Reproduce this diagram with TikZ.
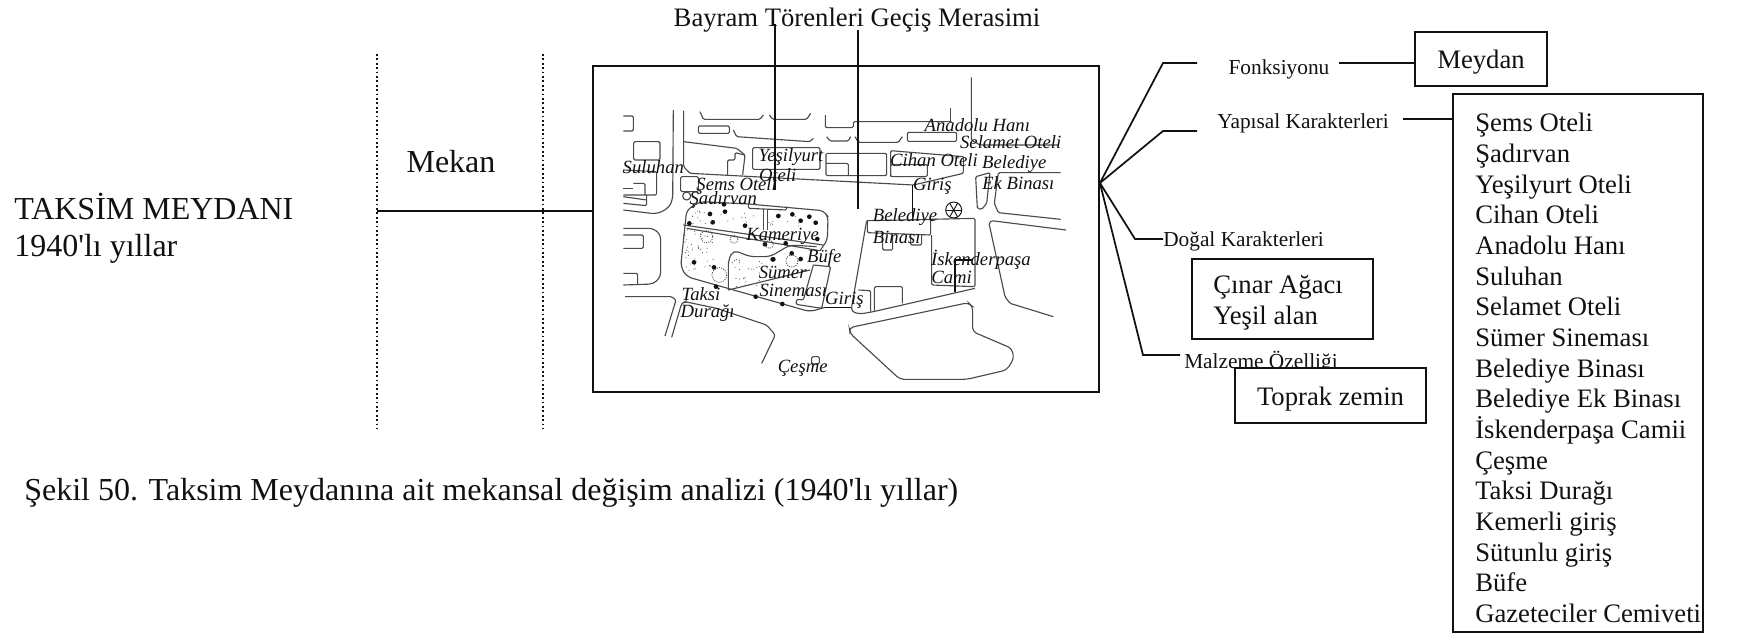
\documentclass[tikz,border=0pt]{standalone}
\usepackage{fontspec}
\setmainfont{Liberation Serif}
\newfontfamily\straightfont{Liberation Serif}
\usetikzlibrary{calc}
\definecolor{msInk}{HTML}{111111}
\definecolor{msRoad}{HTML}{4A4A4A}
\newcommand{\apos}{{\straightfont'}}
\newcommand{\listText}{Şems Oteli\\Şadırvan\\Yeşilyurt Oteli\\Cihan Oteli\\Anadolu Hanı\\Suluhan\\Selamet Oteli\\Sümer Sineması\\Belediye Binası\\Belediye Ek Binası\\İskenderpaşa Camii\\Çeşme\\Taksi Durağı\\Kemerli giriş\\Sütunlu giriş\\Büfe\\Gazeteciler Cemiveti}

\begin{document}
\begin{tikzpicture}[
  x=0.75pt, y=-0.75pt,
  plain/.style={inner sep=0pt, text=msInk, font=\fontsize{20}{23}\selectfont},
  small/.style={inner sep=0pt, text=msInk, font=\fontsize{16}{18}\selectfont},
  big/.style={inner sep=0pt, text=msInk, align=left, font=\fontsize{24}{27.8}\selectfont},
  box/.style={draw=msInk, line width=1.4pt, fill=white, inner sep=0pt},
  conn/.style={draw=msInk, line width=1.3pt},
  sep/.style={draw=msInk, line width=1.3pt, dotted},
  road/.style={draw=msRoad, line width=0.85pt, rounded corners=1pt},
  maplbl/.style={inner sep=0pt, text=msInk, yshift=-1.5pt, font=\itshape\fontsize{14}{16}\selectfont},
  tree/.style={fill=msInk, draw=none},
  crown/.style={draw=msRoad, line width=0.7pt, densely dotted}
]
\useasboundingbox (0,0) rectangle (1742,637);

% ---- left titles ----------------------------------------------------------
\node[big, anchor=west] (baslik) at (14,228) {TAKSİM MEYDANI\\1940\apos lı yıllar};
\node[big, anchor=center] (mekan) at (451,162) {Mekan};
\node[big, anchor=west] (sekil) at (24,493) {Şekil 50. Taksim Meydanına ait mekansal değişim analizi (1940\apos lı yıllar)};
\node[plain, anchor=center] (bayram) at (857,20) {Bayram Törenleri Geçiş Merasimi};

\coordinate (ayracA) at (377,54);
\coordinate (ayracAalt) at (377,429);
\coordinate (ayracB) at (543,54);
\coordinate (ayracBalt) at (543,429);
\draw[sep] (ayracA) -- (ayracAalt);
\draw[sep] (ayracB) -- (ayracBalt);

% ---- map frame ------------------------------------------------------------
\node[box, minimum width=379.5pt, minimum height=244.5pt] (harita) at (846,229) {};
\draw[conn] (ayracA |- 0,211) -- (harita.west |- 0,211);

% ---- map drawing (coordinates of the 3x crop) -----------------------------
\begin{scope}[shift={(590,60)}, x=0.25pt, y=-0.25pt]
  % upper rows
  \draw[road] (100,168) -- (130,168) -- (130,213) -- (100,213);
  \draw[road, rounded corners=4pt] (250,150) -- (248,420) -- (235,445) -- (200,462) -- (100,450);
  \draw[road] (281,152) -- (281,320) -- (300,340) -- (970,375) -- (1120,340) -- (1120,290);
  \draw[road] (281,245) -- (440,265) -- (465,285) -- (458,345);
  \draw[road] (413,345) -- (413,300) -- (435,300) -- (435,278) -- (465,285);
  \draw[road] (131,245) rectangle (210,300);
  \draw[road] (325,198) rectangle (418,220);
  \draw[road] (330,155) -- (340,178) -- (510,178) -- (520,165);
  \draw[road] (538,165) -- (548,178) -- (650,178) -- (662,160);
  \draw[road] (430,210) -- (440,230) -- (660,245) -- (670,235);
  \draw[road] (706,165) -- (706,203) -- (790,203) -- (790,185) -- (1085,185);
  \draw[road] (1082,145) -- (1082,185);
  \draw[road] (710,230) -- (720,243) -- (775,243) -- (782,230);
  \draw[road] (795,230) -- (805,247) -- (925,247) -- (937,230);
  \draw[road] (952,217) rectangle (1100,244);
  \draw[road] (1144,52) -- (1144,240) -- (1170,255) -- (1405,255);
  \draw[road] (488,263) rectangle (690,328);
  \draw[road] (708,280) rectangle (890,347);
  \draw[road] (708,310) -- (775,310) -- (775,347);
  \draw[road] (902,350) -- (902,272) -- (1120,290);
  \draw[road] (902,314) rectangle (1012,350);
  % left blocks
  \draw[road] (100,330) -- (200,335) -- (200,405) -- (100,405);
  \draw[road] (130,370) -- (165,370) -- (165,405);
  \draw[road] (100,385) -- (130,385);
  \draw[road] (100,410) -- (170,420);
  \draw[road] (100,430) -- (170,437) -- (170,405);
  \draw[road] (272,350) rectangle (325,395);
  \draw[road] (290,408) circle[radius=12];
  \draw[road, rounded corners=3pt] (100,505) -- (190,505) -- (212,525) -- (212,650) -- (190,672) -- (100,675);
  \draw[road] (100,525) -- (160,525) -- (160,565) -- (100,565);
  \draw[road] (100,640) -- (143,640) -- (143,672);
  \draw[road] (105,710) -- (245,710) -- (258,720) -- (225,828);
  \draw[road, rounded corners=2pt] (245,832) -- (275,730) -- (285,725) -- (380,745) -- (530,795) -- (556,825) -- (515,910);
  % park
  \draw[road, rounded corners=4pt] (475,432) -- (330,425) -- (290,450) -- (272,620) -- (290,650) -- (660,755) -- (705,742);
  \draw[road, rounded corners=3pt] (475,432) -- (700,452) -- (714,470) -- (712,540) -- (690,572);
  \draw[road] (280,495) -- (700,555);
  \draw[road] (290,505) -- (690,572);
  \draw[road] (520,448) -- (520,510);
  \draw[road] (533,448) -- (533,510);
  \draw[road] (475,432) -- (475,445) -- (590,450) -- (590,440);
  \draw[road, rounded corners=4pt] (415,690) -- (415,600) -- (430,570) -- (480,590) -- (540,590) -- (600,555) -- (680,560);
  \draw[road] (415,690) -- (660,630);
  \draw[road] (670,615) -- (722,620) -- (695,745) -- (618,733) -- (620,718) -- (640,720) -- (670,615);
  \draw[conn, line width=0.9pt] (705,742) -- (785,742);
  % city hall and mosque
  \draw[road] (785,740) -- (830,482) -- (1040,478);
  \draw[road] (832,480) -- (832,518) -- (1022,525) -- (1022,478) -- (1155,475) -- (1155,680) -- (1025,675) -- (1025,525);
  \draw[road] (878,520) -- (878,570) -- (908,570) -- (908,522);
  \draw[road] (962,525) -- (962,555) -- (995,555) -- (995,525);
  \draw[road, rounded corners=2.5pt] (785,740) -- (785,755) -- (810,762) -- (850,755) -- (1155,685);
  \draw[road] (805,690) -- (842,692) -- (842,755);
  \draw[road] (853,755) -- (853,680) -- (937,680) -- (937,730);
  \draw[conn, line width=0.8pt] (1095,695) -- (1095,600) -- (1145,600);
  \draw[conn, line width=0.9pt] (968,375) -- (968,470);
  \draw[road] (665,890) rectangle (688,912);
  \draw[road, rounded corners=3pt] (778,803) -- (1135,728) -- (1148,740) -- (1148,815) -- (1265,865) -- (1272,895) -- (1250,930) -- (1130,958) -- (930,958) -- (780,820) -- cycle;
  % right side
  \draw[road] (1157,350) -- (1200,338) -- (1190,430) -- (1175,448) -- (1162,445) -- cycle;
  \draw[road] (1412,338) -- (1225,338) -- (1213,430) -- (1225,458) -- (1412,478);
  \draw[road] (1428,510) -- (1205,482) -- (1197,490) -- (1245,710) -- (1260,730) -- (1390,770);
  % trees
  \foreach \tx/\ty in {402/433,405/455,360/462,368/487,298/490,465/497,565/468,607/463,632/482,677/488,658/470,682/537,312/607,372/622,378/680,497/710,577/732,550/598,605/580,632/597,587/550,548/598,525/553}
    \fill[tree] (\tx,\ty) circle[radius=7];
  \foreach \tx/\ty/\tr in {350/530/18,388/645/22,606/603/18,538/553/12,432/538/12}
    \draw[crown] (\tx,\ty) circle[radius=\tr];
  % park dots
  \pgfmathsetseed{7}
  \foreach \cx/\cy/\rx/\ry/\cnt in {335/470/40/22/14,330/570/48/62/40,470/640/48/42/26,440/470/60/18/8,600/480/70/20/10}
    \foreach \k in {1,...,\cnt}
      \fill[msRoad] ({\cx+\rx*(2*rnd-1)},{\cy+\ry*(2*rnd-1)}) circle[radius=1.6];
  % plane tree
  \draw[msInk, line width=0.7pt] (1091,450) circle[radius=24];
  \foreach \ang in {0,60,...,300}
    \draw[msInk, line width=0.7pt] (1091,450) -- ++(\ang:24);
  % labels
  \node[maplbl] (anadolu)  at (1162,190) {Anadolu Hanı};
  \node[maplbl] (selamet)  at (1262,240) {Selamet Oteli};
  \node[maplbl] (yesil)    at (603,285)  {Yeşilyurt};
  \node[maplbl] (yesilb)   at (563,340)  {Oteli};
  \node[maplbl] (cihan)    at (1032,293) {Cihan Oteli};
  \node[maplbl] (ekbina)   at (1273,305) {Belediye};
  \node[maplbl] (ekbinab)  at (1285,363) {Ek Binası};
  \node[maplbl] (suluhan)  at (190,315)  {Suluhan};
  \node[maplbl] (sems)     at (440,372)  {Şems Oteli};
  \node[maplbl] (sadirvan) at (400,413)  {Şadırvan};
  \node[maplbl] (girisa)   at (1027,373) {Giriş};
  \node[maplbl] (belediye) at (945,465)  {Belediye};
  \node[maplbl] (binasi)   at (920,525)  {Binası};
  \node[maplbl] (kameriye) at (578,522)  {Kameriye};
  \node[maplbl] (bufe)     at (703,587)  {Büfe};
  \node[maplbl] (iskender) at (1173,592) {İskenderpaşa};
  \node[maplbl] (cami)     at (1085,647) {Cami};
  \node[maplbl] (sumer)    at (578,630)  {Sümer};
  \node[maplbl] (sinema)   at (610,685)  {Sineması};
  \node[maplbl] (girisb)   at (763,715)  {Giriş};
  \node[maplbl] (taksi)    at (333,697)  {Taksi};
  \node[maplbl] (duragi)   at (353,753)  {Durağı};
  \node[maplbl] (cesme)    at (638,918)  {Çeşme};
\end{scope}

% ---- ceremony lines -------------------------------------------------------
\coordinate (torenA) at (775,190);
\coordinate (torenB) at (858,209);
\draw[conn] (torenA |- 0,24) -- (torenA);
\draw[conn] (torenB |- 0,30) -- (torenB);

% ---- right branches -------------------------------------------------------
\coordinate (odak) at (harita.east |- 0,183);
\node[small] (fonk)    at (1279,69)  {Fonksiyonu};
\node[small] (yapisal) at (1303,123) {Yapısal Karakterleri};
\node[small, anchor=west] (dogal) at (1163,241) {Doğal Karakterleri};
\node[small, anchor=west] (malzeme) at (1184,362) {Malzeme Özelliği};

\node[box, minimum width=99pt, minimum height=40.5pt] (meydan) at (1481,59) {};
\node[plain] (meydantxt) at (meydan.center) [yshift=-2.5pt] {Meydan};
\node[box, minimum width=187.5pt, minimum height=403.5pt] (liste) at (1578,363) {};
\node[plain, anchor=west, align=left] (listetxt) at (1475,368) {\listText};
\node[box, anchor=north west, minimum width=135.75pt, minimum height=60pt] (cinar) at (1191,258) {};
\node[plain, anchor=west, align=left] (cinartxt) at (1213,303) {Çınar Ağacı\\Yeşil alan};
\node[box, minimum width=143.25pt, minimum height=41.25pt] (toprak) at (1330.5,395.5) {};
\node[plain] (topraktxt) at (toprak.center) [yshift=-2.5pt] {Toprak zemin};

\coordinate (fonkKirik) at (1163,63);
\coordinate (fonkUc) at (1197,63);
\coordinate (fonkSag) at (1339,63);
\coordinate (yapKirik) at (1163,131);
\coordinate (yapUc) at (1197,131);
\coordinate (yapSag) at (1403,119);
\coordinate (dogalKirik) at (1135,239);
\coordinate (malzKirik) at (1143,355);
\coordinate (malzUc) at (1180,355);

\draw[conn] (odak) -- (fonkKirik) -- (fonkUc);
\draw[conn] (odak) -- (yapKirik) -- (yapUc);
\draw[conn] (odak) -- (dogalKirik) -- (dogal.west |- dogalKirik);
\draw[conn] (odak) -- (malzKirik) -- (malzUc);
\draw[conn] (fonkSag) -- (fonkSag -| meydan.west);
\draw[conn] (yapSag) -- (yapSag -| liste.west);

\end{tikzpicture}
\end{document}
